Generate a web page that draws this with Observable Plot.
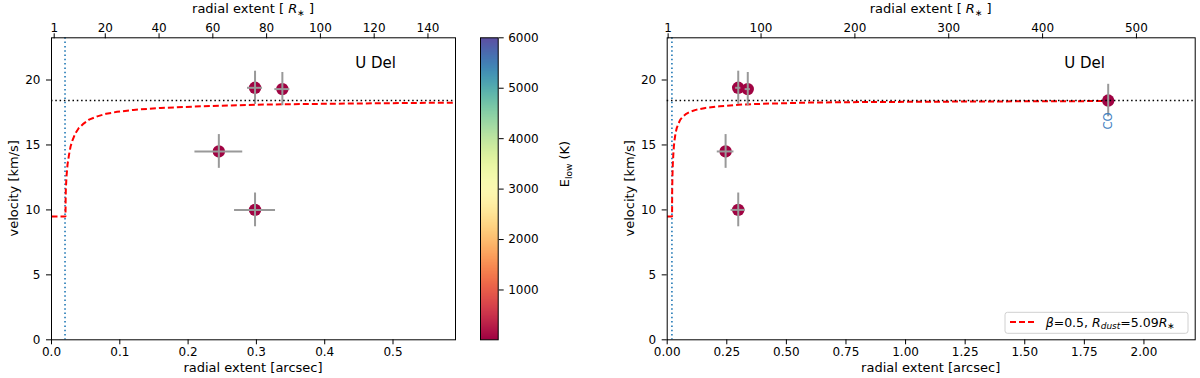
<!DOCTYPE html>
<html><head><meta charset="utf-8">
<script src="https://cdn.jsdelivr.net/npm/d3@7"></script>
<script src="https://cdn.jsdelivr.net/npm/@observablehq/plot@0.6"></script>
<style>
body{margin:0;background:#fff;}
#wrap{position:relative;width:1200px;height:378px;overflow:hidden;font-family:"DejaVu Sans";}
#wrap svg{position:absolute;top:0;}
</style></head><body><div id="wrap"></div>
<script>
// ---- data ----
const lineR    = [0.298, 0.338, 0.245, 0.298];     // radial extent [arcsec]
const lineV    = [19.4, 19.3, 14.5, 10.0];         // velocity [km/s]
const lineRErr = [0.011, 0.011, 0.035, 0.030];
const lineVErr = [1.28, 1.28, 1.3, 1.3];
const lineElow = [30, 30, 30, 30];                 // E_low [K]
const coR = [1.85];
const coV = [18.42];
const coVErr = [1.25];
const coElow = [20];
const coLabel = ["CO"];
const vTerminal = 18.42;
const rDust = 0.0198;                               // arcsec
const arcsecPerRstar = 0.003937;
const curveR = [0, 0.0205, 0.0205, 0.0207, 0.021, 0.022, 0.0235, 0.0255, 0.028, 0.031, 0.035, 0.040, 0.046, 0.055, 0.067, 0.080, 0.096, 0.12, 0.16, 0.22, 0.30, 0.40, 0.59, 0.80, 1.10, 1.50, 1.85];
const curveV = [9.5, 9.5, 9.5, 10.8, 11.6, 12.6, 13.5, 14.2, 14.9, 15.4, 15.9, 16.3, 16.6, 16.95, 17.2, 17.4, 17.55, 17.7, 17.85, 17.98, 18.1, 18.17, 18.26, 18.3, 18.33, 18.36, 18.38];
const yTicks = [0, 5, 10, 15, 20];
const xTicksLeft = [0, 0.1, 0.2, 0.3, 0.4, 0.5];
const xTicksRight = [0, 0.25, 0.5, 0.75, 1.0, 1.25, 1.5, 1.75, 2.0];
const topTicksLeft = [1, 20, 40, 60, 80, 100, 120, 140];
const topTicksRight = [1, 100, 200, 300, 400, 500];
const elowTicks = [1000, 2000, 3000, 4000, 5000, 6000];
const starName = "U Del";

const lines = lineR.map((r, i) => ({r, v: lineV[i], re: lineRErr[i], ve: lineVErr[i], e: lineElow[i]}));
const co = coR.map((r, i) => ({r, v: coV[i], re: 0, ve: coVErr[i], e: coElow[i], label: coLabel[i]}));
const curve = curveR.map((r, i) => ({r, v: curveV[i]}));

const colorScale = {type: "linear", scheme: "spectral", domain: [12, 6000]};
const H = 378, MT = 37.3, MB = 38.7, yMax = 23.25;
const wrap = document.getElementById("wrap");
const style = {fontFamily: "DejaVu Sans", fontSize: "12px", color: "black", background: "transparent", overflow: "visible"};
const DASH = "6,3";

function panel({left, width, ml, mr, xMax, xTicks, xFmt, topTicks, pts, showLegend}) {
  const svg = Plot.plot({
    width, height: H, marginLeft: ml, marginRight: mr, marginTop: MT, marginBottom: MB,
    style,
    x: {domain: [0, xMax]},
    y: {domain: [0, yMax]},
    color: colorScale,
    marks: [
      Plot.ruleX([rDust], {stroke: "#1f77b4", strokeWidth: 1.6, strokeDasharray: "1.5,2.8"}),
      Plot.line(curve, {x: "r", y: "v", stroke: "#ff0000", strokeWidth: 2, strokeDasharray: DASH, strokeLinecap: "butt", strokeLinejoin: "miter", clip: true}),
      Plot.dot(pts, {x: "r", y: "v", r: 6.2, fill: "e"}),
      Plot.ruleY(pts.filter(d => d.re > 0), {y: "v", x1: d => d.r - d.re, x2: d => d.r + d.re, stroke: "#999", strokeWidth: 2}),
      Plot.ruleX(pts, {x: "r", y1: d => d.v - d.ve, y2: d => d.v + d.ve, stroke: "#999", strokeWidth: 2}),
      Plot.ruleY([vTerminal], {stroke: "black", strokeWidth: 1.6, strokeDasharray: "1.5,2.8"}),
      Plot.text(pts.filter(d => d.label), {x: "r", y: 16.85, text: "label", rotate: -90, fill: "#3f7fbf", fontSize: 11.5}),
      Plot.text([starName], {x: xMax * 0.752, y: 21.3, text: d => d, textAnchor: "start", fontSize: 15}),
      Plot.frame({stroke: "black", strokeWidth: 1}),
      Plot.axisY({ticks: yTicks, tickSize: 5, tickPadding: 6, label: null}),
      Plot.axisX({ticks: xTicks, tickFormat: xFmt, tickSize: 5, tickPadding: 3, label: null}),
      Plot.axisX({anchor: "top", ticks: topTicks.map(t => t * arcsecPerRstar), tickFormat: d => String(Math.round(d / arcsecPerRstar)), tickSize: 5, tickPadding: 1, label: null})
    ]
  });
  svg.style.left = left + "px";
  const s = d3.select(svg);
  const cx = ml + (width - ml - mr) / 2;
  s.append("text").attr("x", cx).attr("y", 372).attr("text-anchor", "middle").attr("font-size", 13).attr("fill", "black").text("radial extent [arcsec]");
  s.append("text").attr("transform", `translate(${ml - 33},${(MT + H - MB) / 2}) rotate(-90)`).attr("text-anchor", "middle").attr("font-size", 13).attr("fill", "black").text("velocity [km/s]");
  const t = s.append("text").attr("x", cx).attr("y", 13.3).attr("text-anchor", "middle").attr("font-size", 13).attr("fill", "black");
  t.append("tspan").text("radial extent [ ");
  t.append("tspan").attr("font-style", "italic").text("R");
  t.append("tspan").attr("font-size", 9).attr("dy", 2.5).text("∗");
  t.append("tspan").attr("dy", -2.5).text(" ]");
  if (showLegend) {
    const g = s.append("g");
    g.append("rect").attr("x", 405).attr("y", 312.3).attr("width", 183).attr("height", 21).attr("rx", 2.5)
      .attr("fill", "white").attr("fill-opacity", 0.8).attr("stroke", "#d0d0d0").attr("stroke-width", 1);
    g.append("line").attr("x1", 410).attr("x2", 436).attr("y1", 322).attr("y2", 322)
      .attr("stroke", "#ff0000").attr("stroke-width", 2).attr("stroke-dasharray", DASH).attr("stroke-linecap", "butt");
    const lt = g.append("text").attr("x", 445.7).attr("y", 326.5).attr("text-anchor", "start").attr("font-size", 12.5).attr("fill", "black");
    lt.append("tspan").attr("font-style", "italic").text("β");
    lt.append("tspan").text("=0.5, ");
    lt.append("tspan").attr("font-style", "italic").text("R");
    lt.append("tspan").attr("font-style", "italic").attr("font-size", 9).attr("dy", 2.5).text("dust");
    lt.append("tspan").attr("dy", -2.5).text("=5.09");
    lt.append("tspan").attr("font-style", "italic").text("R");
    lt.append("tspan").attr("font-size", 9).attr("dy", 2.5).text("∗");
  }
  wrap.appendChild(svg);
}

panel({left: 0, width: 470, ml: 51, mr: 15, xMax: 0.5915, xTicks: xTicksLeft, xFmt: d3.format(".1f"), topTicks: topTicksLeft, pts: lines, showLegend: false});
panel({left: 600, width: 600, ml: 66.7, mr: 5.3, xMax: 2.215, xTicks: xTicksRight, xFmt: d3.format(".2f"), topTicks: topTicksRight, pts: lines.concat(co), showLegend: true});

// colorbar
const cb = Plot.plot({
  width: 130, height: H, marginLeft: 10, marginRight: 102.3, marginTop: MT, marginBottom: MB,
  style,
  x: {domain: [0, 1], axis: null},
  y: {domain: colorScale.domain},
  color: colorScale,
  marks: [
    Plot.raster({fill: (x, y) => y, x1: 0, x2: 1, y1: colorScale.domain[0], y2: colorScale.domain[1], width: 4, height: 400}),
    Plot.frame({stroke: "black", strokeWidth: 1}),
    Plot.axisY({anchor: "right", ticks: elowTicks, tickFormat: d3.format("d"), tickSize: 5, tickPadding: 5, label: null})
  ]
});
cb.style.left = "470px";
const cl = d3.select(cb).append("text").attr("transform", "translate(99,164) rotate(-90)").attr("text-anchor", "middle").attr("font-size", 13).attr("fill", "black");
cl.append("tspan").text("E");
cl.append("tspan").attr("font-size", 9).attr("dy", 3).text("low");
cl.append("tspan").attr("dy", -3).text(" (K)");
wrap.appendChild(cb);
</script></body></html>
